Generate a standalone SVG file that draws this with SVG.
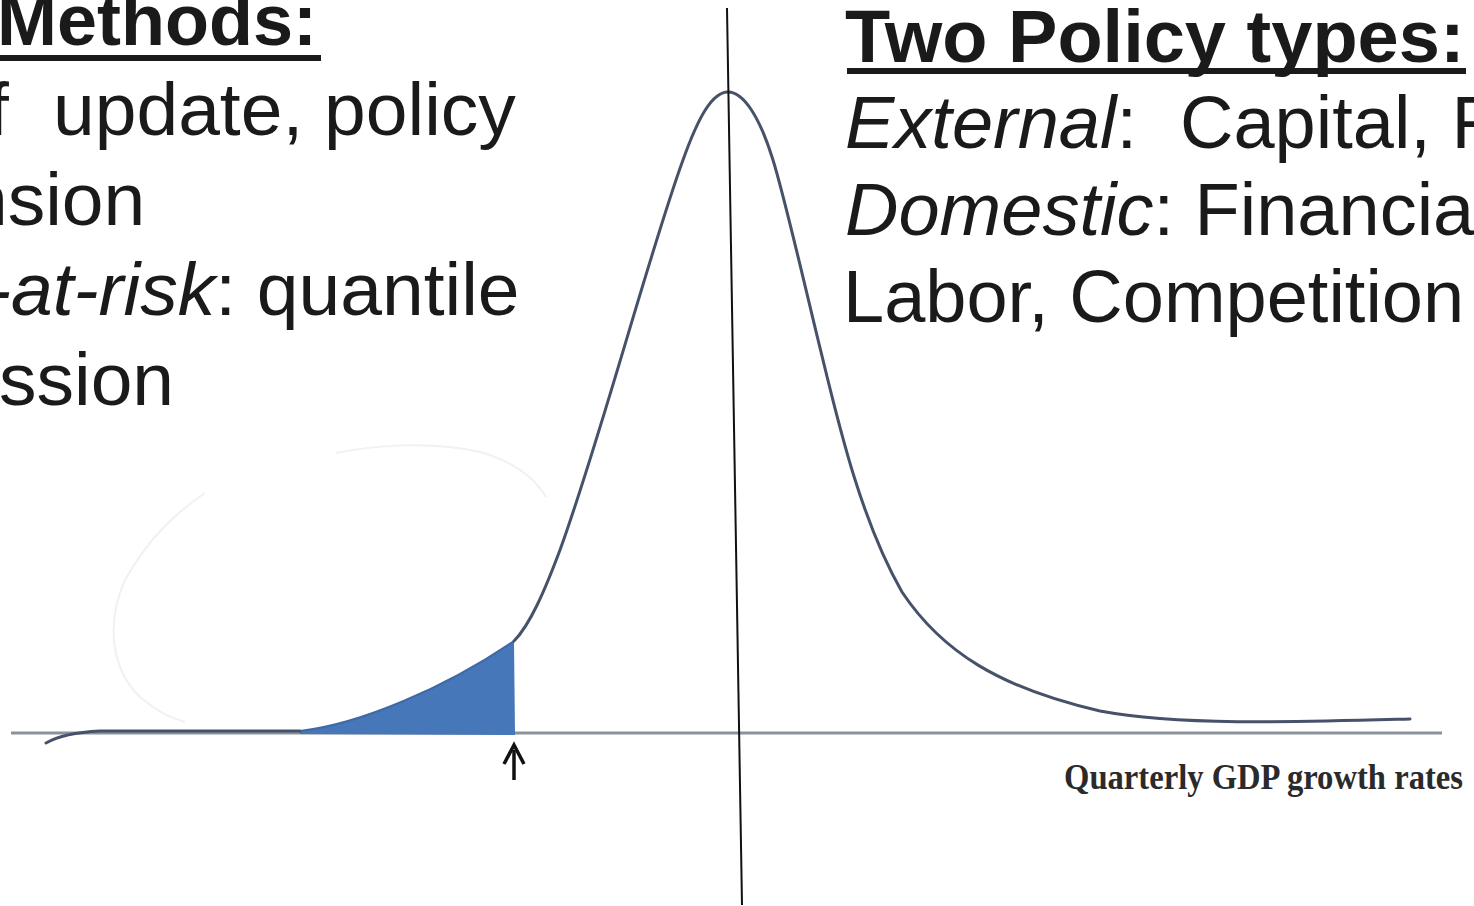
<svg xmlns="http://www.w3.org/2000/svg" width="1474" height="906" viewBox="0 0 1474 906">
  <style>
    .t { font-family: "Liberation Sans", Arial, sans-serif; font-size: 75px; fill: #1a1a1a; }
    .r { font-size: 74px; }
    .m { font-size: 72px; }
    .b { font-weight: bold; }
    .i { font-style: italic; }
    .ul { fill: #1a1a1a; }
    .curve { fill: none; stroke: #46526a; stroke-width: 3; stroke-linecap: round; stroke-linejoin: round; }
    .ghost { fill: none; stroke: #f1f1f1; stroke-width: 2; }
  </style>
  <rect width="1474" height="906" fill="#ffffff"/>

  <g id="ghost-loop">
    <path class="ghost" d="M205 493 C180 510 150 535 125 580 C105 625 112 670 140 697 C155 710 170 718 185 722"/>
    <path class="ghost" d="M336 453 C370 446 430 440 480 452 C515 462 535 478 546 497"/>
  </g>

  <g id="axis">
    <line x1="11" y1="733" x2="1442" y2="733" stroke="#8c929c" stroke-width="3"/>
  </g>

  <g id="tail-shade">
    <path d="M300 731 C360 724 445 688 514 641 L515 735 L300 734 Z" fill="#4677b8"/>
    <path d="M300 731 C360 724 445 688 514 641" fill="none" stroke="#3f69a6" stroke-width="2"/>
  </g>

  <g id="density-curve">
    <path class="curve" d="M46 743 C60 735 80 732 100 731 L300 731"/>
    <path class="curve" d="M514 641 C530 625 545 590 560 550 C600 440 650 250 683 160 C698 118 712 92 728 92 C744 92 760 118 773 160 C786 202 808 300 823 360 C840 430 862 522 902 592 C942 652 1000 688 1100 711 C1180 726 1300 722 1410 719"/>
  </g>

  <g id="threshold-arrow">
    <line x1="514" y1="750" x2="514" y2="780" stroke="#111" stroke-width="3.5"/>
    <polyline points="504,764 514,745 524,764" fill="none" stroke="#111" stroke-width="3.5" stroke-linejoin="miter"/>
  </g>

  <g id="divider">
    <line x1="727" y1="8" x2="742" y2="905" stroke="#111" stroke-width="2"/>
  </g>

  <g id="axis-label">
    <text x="1064" y="789" font-family="'Liberation Serif', 'Times New Roman', serif" font-weight="bold" font-size="36" fill="#2a2a2a" textLength="399" lengthAdjust="spacingAndGlyphs">Quarterly GDP growth rates</text>
  </g>

  <g id="methods-text">
    <text class="t m b" x="-3" y="45">Methods:</text>
    <rect class="ul" x="0" y="55" width="321" height="6"/>
    <text class="t" y="135"><tspan x="-12">f</tspan><tspan x="53">update, policy</tspan></text>
    <text class="t" x="-34" y="225">nsion</text>
    <text class="t" x="-14" y="315"><tspan class="i">-at-risk</tspan>: quantile</text>
    <text class="t" x="-1" y="405">ssion</text>
  </g>

  <g id="policy-text">
    <text class="t r b" x="845" y="62">Two Policy types:</text>
    <rect class="ul" x="847" y="68" width="619" height="6"/>
    <text class="t r" y="148"><tspan class="i" x="845">External</tspan>:<tspan x="1180">Capital, F</tspan></text>
    <text class="t r" x="845" y="235"><tspan class="i">Domestic</tspan>: Financia</text>
    <text class="t r" x="843" y="322">Labor, Competition</text>
  </g>
</svg>
